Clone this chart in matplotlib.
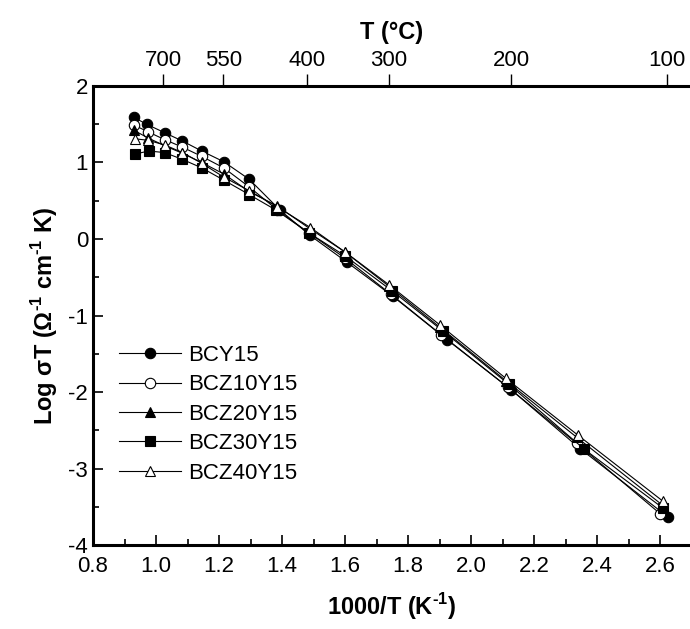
import matplotlib
matplotlib.use("Agg")
import matplotlib.pyplot as plt
from matplotlib import font_manager
from matplotlib.ticker import MultipleLocator

plt.rcParams['font.family'] = ['Liberation Sans', 'DejaVu Sans']
plt.rcParams['mathtext.fontset'] = 'custom'
plt.rcParams['mathtext.rm'] = 'Liberation Sans:bold'
plt.rcParams['mathtext.bf'] = 'Liberation Sans:bold'
plt.rcParams['axes.unicode_minus'] = False

# data (x = 1000/T, y = log sigma T)
x_bcy15 = [0.93, 0.970, 1.027, 1.084, 1.145, 1.215, 1.296, 1.393, 1.488, 1.605, 1.752, 1.925, 2.127, 2.346, 2.624]
y_bcy15 = [1.59, 1.50, 1.39, 1.28, 1.15, 1.01, 0.78, 0.38, 0.05, -0.30, -0.75, -1.32, -1.97, -2.74, -3.63]

x_bcz10 = [0.93, 0.975, 1.027, 1.084, 1.145, 1.215, 1.296, 1.385, 1.485, 1.600, 1.745, 1.905, 2.118, 2.335, 2.600]
y_bcz10 = [1.49, 1.40, 1.30, 1.20, 1.08, 0.93, 0.68, 0.38, 0.08, -0.25, -0.72, -1.25, -1.94, -2.67, -3.59]

x_bcz20 = [0.93, 0.975, 1.027, 1.084, 1.145, 1.215, 1.296, 1.385, 1.490, 1.600, 1.740, 1.900, 2.110, 2.335, 2.608]
y_bcz20 = [1.42, 1.32, 1.22, 1.12, 1.00, 0.85, 0.62, 0.43, 0.13, -0.17, -0.62, -1.15, -1.85, -2.59, -3.48]

x_bcz30 = [0.933, 0.977, 1.027, 1.084, 1.145, 1.215, 1.296, 1.380, 1.485, 1.600, 1.750, 1.910, 2.120, 2.360, 2.610]
y_bcz30 = [1.11, 1.15, 1.13, 1.04, 0.93, 0.77, 0.58, 0.38, 0.08, -0.22, -0.68, -1.20, -1.90, -2.75, -3.52]

x_bcz40 = [0.933, 0.975, 1.027, 1.084, 1.145, 1.215, 1.296, 1.385, 1.490, 1.600, 1.740, 1.900, 2.110, 2.338, 2.610]
y_bcz40 = [1.31, 1.29, 1.23, 1.13, 0.99, 0.81, 0.63, 0.42, 0.15, -0.17, -0.60, -1.12, -1.82, -2.56, -3.43]

labels = ['BCY15', 'BCZ10Y15', 'BCZ20Y15', 'BCZ30Y15', 'BCZ40Y15']

# top axis: temperature in C
top_pos = [1.023, 1.214, 1.479, 1.740, 2.128, 2.621]
top_lab = ['700', '550', '400', '300', '200', '100']

# narrow font for the top axis if one is around
installed = {f.name for f in font_manager.fontManager.ttflist}
narrow = [n for n in ['Liberation Sans Narrow', 'Arial Narrow', 'DejaVu Sans Condensed'] if n in installed]
narrow = narrow + ['Liberation Sans']

fig = plt.figure(figsize=(6.9, 6.29), dpi=100)
ax = fig.add_axes([0.1348, 0.1335, 0.8652, 0.7298])

series = [(x_bcy15, y_bcy15, 'o', 'k'),
          (x_bcz10, y_bcz10, 'o', 'w'),
          (x_bcz20, y_bcz20, '^', 'k'),
          (x_bcz30, y_bcz30, 's', 'k'),
          (x_bcz40, y_bcz40, '^', 'w')]
for (xs, ys, m, fc), lab in zip(series, labels):
    ax.plot(xs, ys, color='k', lw=0.8, marker=m, markersize=7.5,
            markerfacecolor=fc, markeredgecolor='k', markeredgewidth=0.8,
            label=lab)

ax.set_xlim(0.8, 2.695)
ax.set_ylim(-4, 2)
ax.xaxis.set_major_locator(MultipleLocator(0.2))
ax.xaxis.set_minor_locator(MultipleLocator(0.1))
ax.yaxis.set_major_locator(MultipleLocator(1))
ax.yaxis.set_minor_locator(MultipleLocator(0.5))
ax.xaxis.set_major_formatter(plt.FormatStrFormatter('%.1f'))
ax.tick_params(which='major', direction='in', length=7, width=1.2, labelsize=16)
ax.tick_params(which='minor', direction='in', length=4, width=1.2)
ax.tick_params(axis='x', pad=8)
for s in ['left', 'bottom', 'top']:
    ax.spines[s].set_linewidth(2.2)
ax.spines['right'].set_visible(False)

sup = '$^{\\text{-1}}$'
ax.set_xlabel('1000/T (K' + sup + ')', fontsize=17, fontweight='bold', labelpad=10)
ax.set_ylabel('Log σT (Ω' + sup + ' cm' + sup + ' K)', fontsize=17,
              fontweight='bold', labelpad=6)

top = ax.twiny()
top.set_xlim(ax.get_xlim())
top.set_xticks(top_pos)
top.set_xticklabels(top_lab, family=narrow)
top.tick_params(direction='out', length=9, width=1.0, labelsize=16, pad=2)
for s in top.spines.values():
    s.set_visible(False)
top.set_xlabel('T (°C)', fontsize=17, fontweight='bold', labelpad=8, family=narrow)

ax.legend(loc='lower left', bbox_to_anchor=(0.01, 0.09), frameon=False,
          fontsize=16, handlelength=2.8, handletextpad=0.33,
          labelspacing=0.38, borderaxespad=0.5)

fig.savefig('out.png', dpi=100)
